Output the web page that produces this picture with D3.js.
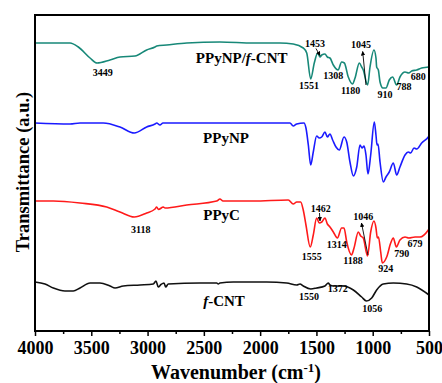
<!DOCTYPE html>
<html>
<head>
<meta charset="utf-8">
<script src="https://cdn.jsdelivr.net/npm/d3@7"></script>
<style>
  html, body { margin: 0; padding: 0; background: #fff; }
  svg text { font-family: "Liberation Serif", "Times New Roman", serif; font-weight: bold; fill: #000; }
</style>
</head>
<body>
<svg id="chart" width="442" height="383"></svg>
<script>
// ---- data: [wavenumber (cm-1), transmittance (a.u., offset)] ----
const pPyNPfCNT = [[4000,288],[3689,288],[3615,284],[3511,273],[3449,268],[3334,271],[3245,274],[3112,275],[3008,281],[2934,284],[2919,285],[2830,286],[2652,288],[2357,289],[2061,288],[1824,288],[1706,287],[1617,283],[1586,278],[1551,252],[1519,268],[1489,278],[1468,274],[1453,276],[1424,277],[1403,274],[1380,273],[1350,266],[1308,261],[1276,269],[1252,268],[1217,254],[1180,247],[1157,253],[1119,268],[1098,264],[1084,261],[1045,246],[1024,264],[989,281],[971,273],[965,264],[950,261],[935,249],[910,243],[882,243],[853,251],[823,254],[788,246],[758,254],[713,259],[680,258],[654,260],[609,261],[565,263],[506,264],[500,265]];
const pPyNP = [[4000,208],[3689,207],[3600,208],[3393,208],[3245,204],[3118,198],[3008,204],[2934,207],[2919,208],[2890,206],[2863,208],[2652,208],[2061,208],[1735,208],[1706,205],[1675,207],[1611,208],[1593,203],[1572,186],[1551,166],[1528,179],[1498,195],[1475,193],[1453,194],[1424,199],[1403,194],[1380,197],[1356,191],[1326,184],[1297,181],[1255,194],[1231,189],[1202,169],[1172,155],[1142,164],[1113,186],[1095,183],[1077,185],[1060,176],[1042,157],[1018,176],[986,209],[971,196],[962,186],[953,187],[935,169],[906,149],[882,154],[853,159],[817,168],[787,156],[758,164],[713,176],[684,179],[663,178],[633,183],[609,182],[565,188],[506,194],[500,195]];
const pPyC = [[4000,130],[3837,130],[3600,128],[3363,124],[3245,119],[3118,114],[3008,118],[2934,122],[2919,124],[2903,121.5],[2860,124],[2845,123],[2652,126],[2386,130],[2357,132],[2330,130],[2061,130],[1750,131],[1706,127],[1675,129],[1640,129],[1617,121],[1593,106],[1555,84],[1528,96],[1498,113],[1475,108],[1453,109],[1424,113],[1403,107],[1380,104],[1350,99],[1314,93],[1276,103],[1255,103],[1231,89],[1188,76],[1166,83],[1128,99],[1107,95],[1084,93],[1046,75],[1018,99],[989,110],[971,103],[959,93],[949,94],[929,79],[915,68],[876,74],[840,88],[817,93],[790,84],[758,91],[713,94],[679,93],[624,94],[580,94],[506,101],[500,102]];
const fCNT = [[4000,49],[3911,47],[3837,43],[3734,40],[3660,40],[3600,43],[3511,48],[3423,48],[3334,45],[3289,43],[3216,45],[3067,46],[2949,47],[2925,50],[2905,44],[2881,46.5],[2854,48],[2839,44],[2816,47],[2534,48],[2386,48],[2372,47],[2357,48],[2239,49],[1942,49],[1764,48],[1675,46],[1646,47],[1617,45],[1550,42],[1498,43],[1424,45],[1395,48],[1380,46],[1350,45],[1261,45],[1172,41],[1098,34],[1056,30],[1009,33],[965,41],[906,47],[817,48],[698,47],[609,44],[500,36]];

const seriesNames = ["PPyNP/f-CNT", "PPyNP", "PPyC", "f-CNT"];
const seriesColors = ["#178878", "#1a1aff", "#ff1a1a", "#111111"];
const seriesData = [pPyNPfCNT, pPyNP, pPyC, fCNT];

// series name labels: [prefix, italic part, suffix, wavenumber, value]
const nameLabels = [["PPyNP/", "f", "-CNT", 2164, 268], ["PPyNP", "", "", 2303, 188], ["PPyC", "", "", 2342, 111], ["", "f", "-CNT", 2321, 25]];
// peak labels: [text, wavenumber, value]
const peakLabels = [
  ["3449",3399,255],["1453",1513,284],["1045",1104,283],["1551",1566,242],["1308",1350,252],["1180",1196,237],["910",891,233],["788",722,241.5],["680",595,251.5],
  ["3118",3061,98],["1462",1462,119],["1046",1084,111],["1555",1542,71],["1314",1320,83],["1188",1175,67.5],["924",885,59],["790",743,74],["679",624,84],
  ["1550",1566,31],["1372",1311,39],["1056",1004,19]
];
// arrows: [w1, v1, w2, v2] (head at second point)
const arrows = [[1504,282.5,1468,275.5],[1060,246,1089,279.5],[1473,118,1468,110],[1042,76,1100,108]];

const xTicksMajor = [4000,3500,3000,2500,2000,1500,1000,500];
const xTicksMinor = [3750,3250,2750,2250,1750,1250,750];

// ---- drawing ----
const svg = d3.select("#chart");
const mLeft = 35, mRight = 429, mTop = 15, mBottom = 331;
const x = d3.scaleLinear().domain([4000, 500]).range([mLeft, mRight]);
const y = d3.scaleLinear().domain([0, 316]).range([mBottom, mTop]);

const defs = svg.append("defs");
defs.append("marker").attr("id","ah").attr("viewBox","0 0 10 10").attr("refX",9).attr("refY",5)
  .attr("markerWidth",5).attr("markerHeight",5).attr("orient","auto")
  .append("path").attr("d","M0,0 L10,5 L0,10 z").attr("fill","#000");

const line = d3.line().x(d => x(d[0])).y(d => y(d[1])).curve(d3.curveMonotoneX);
seriesData.forEach((s, i) => {
  svg.append("path").datum(s).attr("d", line).attr("fill","none")
    .attr("stroke", seriesColors[i]).attr("stroke-width", 1.6).attr("stroke-linejoin","round");
});

// series names
nameLabels.forEach(l => {
  const t = svg.append("text").attr("x", x(l[3])).attr("y", y(l[4])).attr("text-anchor","middle").attr("font-size", 15);
  if (l[0]) t.append("tspan").text(l[0]);
  if (l[1]) t.append("tspan").attr("font-style","italic").text(l[1]);
  if (l[2]) t.append("tspan").text(l[2]);
});

// peak labels
svg.selectAll("text.peak").data(peakLabels).enter().append("text").attr("class","peak")
  .attr("x", d => x(d[1])).attr("y", d => y(d[2])).attr("text-anchor","middle").attr("font-size", 10)
  .text(d => d[0]);

// arrows
svg.selectAll("line.arrow").data(arrows).enter().append("line").attr("class","arrow")
  .attr("x1", d => x(d[0])).attr("y1", d => y(d[1])).attr("x2", d => x(d[2])).attr("y2", d => y(d[3]))
  .attr("stroke","#000").attr("stroke-width",0.9).attr("marker-end","url(#ah)");

// axis ticks
const gx = svg.append("g").attr("transform", `translate(0,${mBottom})`);
gx.call(d3.axisBottom(x).tickValues(xTicksMajor).tickSize(5).tickPadding(5).tickFormat(d3.format("d")));
gx.select(".domain").remove();
gx.selectAll(".tick line").attr("stroke","#000").attr("stroke-width",1.5);
gx.selectAll(".tick text").attr("font-size",18).attr("font-family","Liberation Serif").attr("font-weight","bold").attr("fill","#000");
const gm = svg.append("g").attr("transform", `translate(0,${mBottom})`);
gm.call(d3.axisBottom(x).tickValues(xTicksMinor).tickSize(3).tickFormat(""));
gm.select(".domain").remove();
gm.selectAll(".tick line").attr("stroke","#000").attr("stroke-width",1.5);

// frame
svg.append("rect").attr("x", mLeft).attr("y", mTop).attr("width", mRight-mLeft).attr("height", mBottom-mTop)
  .attr("fill","none").attr("stroke","#000").attr("stroke-width",2);

// axis titles
const xt = svg.append("text").attr("x", (mLeft+mRight)/2 + 4).attr("y", 379).attr("text-anchor","middle").attr("font-size", 20);
xt.append("tspan").text("Wavenumber (cm");
xt.append("tspan").attr("dy",-7).attr("font-size",13).text("-1");
xt.append("tspan").attr("dy",7).text(")");

svg.append("text").attr("transform", `translate(29,${172}) rotate(-90)`).attr("text-anchor","middle").attr("font-size", 18.5)
  .text("Transmittance (a.u.)");
</script>
</body>
</html>
